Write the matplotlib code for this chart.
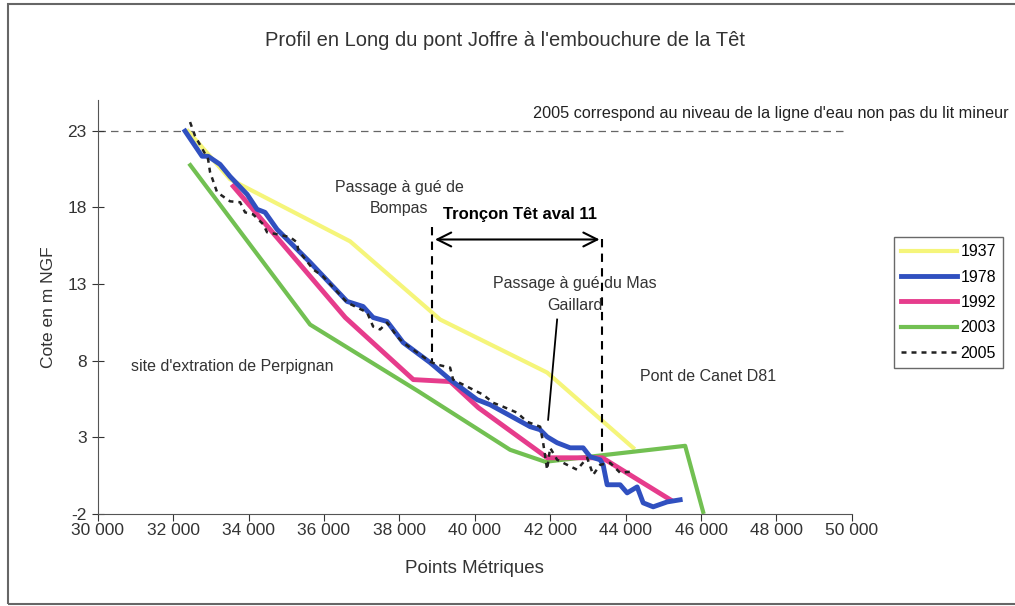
import matplotlib.pyplot as plt
from matplotlib.patches import Rectangle

plt.rcParams['font.family'] = ['Liberation Sans', 'DejaVu Sans']

# Profils en long (PM, cote m NGF)
pm_1937 = [32395, 33509, 36692, 39080, 41918, 44199]
cote_1937 = [22.97, 19.83, 15.78, 10.68, 7.22, 2.31]

pm_1978 = [32316, 32767, 32926, 33244, 33509, 33960, 34225, 34437, 34756, 35631,
           36613, 37037, 37303, 37674, 37939, 38098, 38814, 39345, 40061, 40406,
           41467, 41732, 41918, 42183, 42528, 42873, 43058, 43323, 43403, 43509,
           43854, 44040, 44305, 44465, 44730, 45101, 45446]
cote_1978 = [22.97, 21.33, 21.33, 20.80, 20.01, 18.85, 17.87, 17.67, 16.56, 14.41,
             11.86, 11.53, 10.81, 10.55, 9.70, 9.18, 7.87, 6.76, 5.45, 5.12,
             3.69, 3.49, 3.03, 2.64, 2.31, 2.31, 1.73, 1.53, 1.20, -0.10,
             -0.10, -0.63, -0.24, -1.28, -1.54, -1.22, -1.08]

pm_1992 = [33594, 36565, 38369, 39350, 40093, 41923, 43382, 45186]
cote_1992 = [19.37, 10.81, 6.76, 6.63, 4.93, 1.66, 1.66, -1.08]

pm_2003 = [32454, 35631, 38500, 40936, 41865, 45578, 46055]
cote_2003 = [20.75, 10.35, 6.0, 2.18, 1.40, 2.44, -1.87]

pm_2005 = [32448, 32581, 32926, 32979, 33165, 33509, 33775, 33907, 34119, 34385,
           34491, 34756, 35101, 35287, 35313, 35446, 35711, 35976, 36613, 37143,
           37303, 37488, 37674, 37754, 37939, 38098, 38549, 38814, 39000, 39345,
           39424, 39796, 40220, 40485, 40751, 41122, 41387, 41732, 41812, 41918,
           41997, 42183, 42448, 42713, 42979, 43138, 43323, 43589, 43854, 44119]
cote_2005 = [23.56, 22.65, 21.14, 20.29, 18.98, 18.39, 18.33, 17.67, 17.54, 16.90,
             16.37, 16.24, 16.05, 15.71, 15.25, 14.80, 13.95, 13.49, 11.79, 11.14,
             10.22, 10.03, 10.48, 10.22, 9.57, 9.18, 8.39, 7.93, 7.74, 7.54,
             6.76, 6.30, 5.78, 5.25, 4.99, 4.60, 4.01, 3.69, 2.64, 0.88,
             2.31, 1.53, 1.20, 0.88, 1.66, 0.55, 1.20, 1.33, 0.68, 0.75]

x_ticks = list(range(30000, 50001, 2000))
y_ticks = [-2, 3, 8, 13, 18, 23]

txt = '#333333'

fig = plt.figure(figsize=(10.15, 6.06), dpi=100)
ax = fig.add_axes([0.0963, 0.152, 0.743, 0.683])

ax.plot(pm_1937, cote_1937, color='#F5F57A', lw=3, label='1937', zorder=2)
ax.plot(pm_2003, cote_2003, color='#72C052', lw=3, label='2003', zorder=2)
ax.plot(pm_1992, cote_1992, color='#E63C8C', lw=3.5, label='1992', zorder=3)
ax.plot(pm_1978, cote_1978, color='#3050C0', lw=3.5, label='1978', zorder=4)
ax.plot(pm_2005, cote_2005, color='#222222', lw=1.8, ls=(0, (2, 2)), label='2005', zorder=5)

# niveau 2005 = ligne d'eau
ax.plot([30000, 49800], [23, 23], color='#666666', lw=0.9, ls=(0, (6, 4)), zorder=1)
ax.text(54150, 24.1, "2005 correspond au niveau de la ligne d'eau non pas du lit mineur",
        ha='right', va='center', fontsize=11.7, clip_on=False, color='#222222')

# tronçon
ax.plot([38870, 38870], [16.7, 7.7], color='black', lw=1.5, ls=(0, (4, 3)))
ax.plot([43382, 43382], [15.9, 1.5], color='black', lw=1.5, ls=(0, (4, 3)))
ax.annotate('', xy=(38870, 15.9), xytext=(43382, 15.9),
            arrowprops=dict(arrowstyle='<->', color='black', lw=1.5, mutation_scale=25))
ax.text(41200, 17.55, 'Tronçon Têt aval 11', ha='center', va='center',
        fontsize=12, fontweight='bold')

ax.text(38000, 18.6, 'Passage à gué de\nBompas', ha='center', va='center',
        fontsize=11.5, color=txt, linespacing=1.5)
ax.text(42650, 12.3, 'Passage à gué du Mas\nGaillard', ha='center', va='center',
        fontsize=11.5, color=txt, linespacing=1.6)
ax.plot([42183, 41944], [10.68, 4.14], color='black', lw=1.3)
ax.text(33567, 7.6, "site d'extration de Perpignan", ha='center', va='center',
        fontsize=11.5, color=txt)
ax.text(46183, 6.95, 'Pont de Canet D81', ha='center', va='center',
        fontsize=11.5, color=txt)

ax.set_xlim(30000, 50000)
ax.set_ylim(-2, 25)
ax.set_xticks(x_ticks)
ax.set_xticklabels([f'{v // 1000} 000' for v in x_ticks])
ax.set_yticks(y_ticks)
ax.set_yticklabels([str(v) for v in y_ticks])
ax.tick_params(axis='x', labelsize=12.5, colors=txt, length=5, pad=1.5)
ax.tick_params(axis='y', labelsize=12.5, colors=txt, length=8, direction='inout', pad=4)
ax.spines['top'].set_visible(False)
ax.spines['right'].set_visible(False)
for s in ('left', 'bottom'):
    ax.spines[s].set_color('#555555')
ax.set_xlabel('Points Métriques', fontsize=13.5, color=txt, labelpad=16)
ax.set_ylabel('Cote en m NGF', fontsize=12.5, color=txt, labelpad=8)

fig.text(0.498, 0.933, "Profil en Long du pont Joffre à l'embouchure de la Têt",
         ha='center', va='center', fontsize=14.5, color=txt)

handles, labels = ax.get_legend_handles_labels()
order = ['1937', '1978', '1992', '2003', '2005']
hl = dict(zip(labels, handles))
leg = fig.legend([hl[k] for k in order], order, loc='upper left',
                 bbox_to_anchor=(0.873, 0.622), fontsize=11.5, frameon=True,
                 fancybox=False, edgecolor='#444444', handlelength=3.5,
                 handletextpad=0.2, borderpad=0.45, labelspacing=0.65)
leg.get_frame().set_linewidth(1)

fig.patches.append(Rectangle((0.008, 0.003), 1.2, 0.99, transform=fig.transFigure,
                             fill=False, edgecolor='#666666', lw=1.5))

fig.savefig('out.png', dpi=100)
